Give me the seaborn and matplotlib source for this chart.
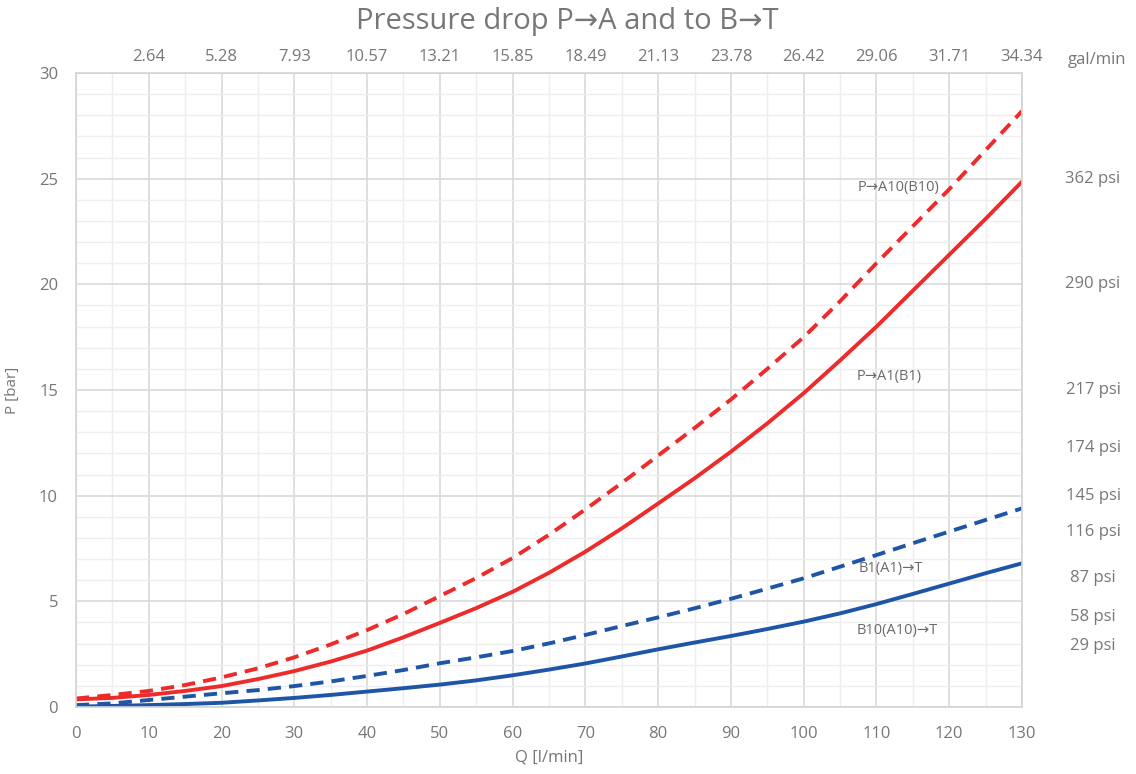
import numpy as np
import pandas as pd
import matplotlib
matplotlib.use("Agg")
import matplotlib.pyplot as plt
import seaborn as sns
from matplotlib.ticker import MultipleLocator

# ---- data ----
q = [0, 5, 10, 15, 20, 25, 30, 35, 40, 45, 50, 55, 60, 65, 70, 75, 80, 85, 90,
     95, 100, 105, 110, 115, 120, 125, 130]
p_a10 = [0.40, 0.57, 0.76, 1.04, 1.40, 1.83, 2.35, 2.96, 3.64, 4.40, 5.25, 6.10,
         7.05, 8.15, 9.35, 10.60, 11.90, 13.20, 14.55, 16.00, 17.50, 19.20, 21.00,
         22.75, 24.50, 26.35, 28.20]
p_a1 = [0.36, 0.43, 0.57, 0.76, 0.99, 1.32, 1.70, 2.15, 2.67, 3.30, 3.98, 4.68,
        5.45, 6.35, 7.35, 8.45, 9.63, 10.82, 12.08, 13.42, 14.85, 16.40, 18.00,
        19.70, 21.40, 23.10, 24.86]
b1_t = [0.09, 0.17, 0.33, 0.49, 0.65, 0.80, 0.99, 1.21, 1.47, 1.75, 2.07, 2.35,
        2.65, 3.01, 3.41, 3.83, 4.24, 4.67, 5.12, 5.60, 6.09, 6.64, 7.19, 7.75,
        8.30, 8.85, 9.40]
b10_t = [0.02, 0.05, 0.09, 0.14, 0.20, 0.31, 0.43, 0.57, 0.73, 0.89, 1.06, 1.26,
         1.50, 1.77, 2.06, 2.39, 2.73, 3.05, 3.36, 3.69, 4.04, 4.43, 4.87, 5.35,
         5.84, 6.33, 6.80]
series_names = ["P→A10(B10)", "P→A1(B1)", "B1(A1)→T", "B10(A10)→T"]
gal_ticks = [10, 20, 30, 40, 50, 60, 70, 80, 90, 100, 110, 120, 130]
gal_labels = ["2.64", "5.28", "7.93", "10.57", "13.21", "15.85", "18.49",
              "21.13", "23.78", "26.42", "29.06", "31.71", "34.34"]
psi_labels = ["362 psi", "290 psi", "217 psi", "174 psi", "145 psi",
              "116 psi", "87 psi", "58 psi", "29 psi"]
psi_pos = [25.0, 20.0, 15.0, 12.25, 10.0, 8.3, 6.1, 4.25, 2.9]
label_pos = [(107.4, 24.6), (107.3, 15.65), (107.5, 6.55), (107.3, 3.6)]

# ---- long-form frame ----
frames = []
for name, vals in zip(series_names, [p_a10, p_a1, b1_t, b10_t]):
    frames.append(pd.DataFrame({"Q": q, "P": vals, "series": name}))
df = pd.concat(frames, ignore_index=True)

red = "#EE2B2B"
blue = "#1F55A6"
palette = {series_names[0]: red, series_names[1]: red,
           series_names[2]: blue, series_names[3]: blue}
dashes = {series_names[0]: (3.4, 2.1), series_names[1]: "",
          series_names[2]: (3.4, 2.1), series_names[3]: ""}

sns.set_theme(style="white")
plt.rcParams["font.family"] = ["Open Sans", "DejaVu Sans"]
gray = "#777777"
fs = 12

fig = plt.figure(figsize=(11.36, 7.74), dpi=100)
ax = fig.add_axes([76 / 1136, 1 - 707 / 774, (1022 - 76) / 1136, (707 - 73) / 774])

sns.lineplot(data=df, x="Q", y="P", hue="series", style="series",
             palette=palette, dashes=dashes, linewidth=2.8, legend=False,
             ax=ax, estimator=None, sort=True)
for ln in ax.get_lines():
    ln.set_solid_joinstyle("round")
ax.set_xlim(0, 130)
ax.set_ylim(0, 30)
ax.xaxis.set_major_locator(MultipleLocator(10))
ax.xaxis.set_minor_locator(MultipleLocator(5))
ax.yaxis.set_major_locator(MultipleLocator(5))
ax.yaxis.set_minor_locator(MultipleLocator(1))
ax.grid(which="major", color="#d9d9d9", linewidth=1.2)
ax.grid(which="minor", color="#eeeeee", linewidth=1.0)
ax.set_axisbelow(True)
for s in ax.spines.values():
    s.set_color("#d4d4d4")
    s.set_linewidth(1.2)
ax.tick_params(axis="y", which="both", length=0, colors=gray, labelsize=fs, pad=13)
ax.tick_params(axis="x", which="both", length=0, colors=gray, labelsize=fs, pad=14)
ax.set_xlabel("Q [l/min]", color=gray, fontsize=fs, labelpad=5)
ax.set_ylabel("P [bar]", color=gray, fontsize=11)
ax.yaxis.set_label_coords((20 - 76) / 946, (707 - 390) / 634)

# top gal/min axis
ax2 = ax.twiny()
ax2.set_xlim(ax.get_xlim())
ax2.set_xticks(gal_ticks)
ax2.set_xticklabels(gal_labels)
ax2.tick_params(axis="x", length=0, colors=gray, labelsize=fs, pad=6)
for s in ax2.spines.values():
    s.set_visible(False)
ax2.grid(False)
ax.text(1.0 + (1097 - 1022) / 946, 1.0 + (73 - 60) / 634, "gal/min", transform=ax.transAxes,
        ha="center", va="center", color=gray, fontsize=fs)

# psi labels on right
for lab, yv in zip(psi_labels, psi_pos):
    ax.text(1.0 + (1093 - 1022) / 946, yv, lab, transform=ax.get_yaxis_transform(),
            ha="center", va="center", color=gray, fontsize=fs)

# curve labels
for name, (xv, yv) in zip(series_names, label_pos):
    ax.text(xv, yv, name, ha="left", va="center", color="#6a6a6a", fontsize=10.5)

fig.suptitle("Pressure drop P→A and to B→T", color=gray, fontsize=21,
             y=1 - 22 / 774, va="center", x=567 / 1136)

fig.savefig("out.png", dpi=100)
